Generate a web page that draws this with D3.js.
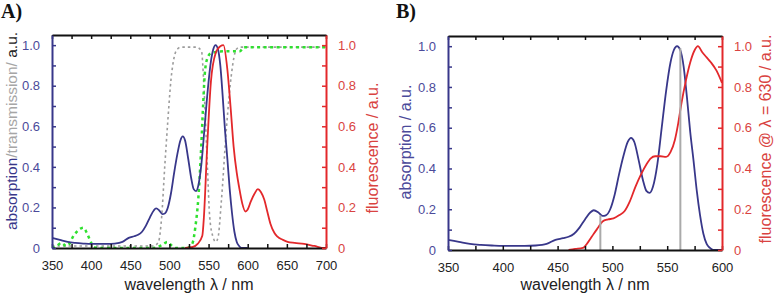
<html>
<head>
<script src="https://cdnjs.cloudflare.com/ajax/libs/d3/7.8.5/d3.min.js"></script>
<style>
  body { margin: 0; background: #fff; }
  text { font-family: "Liberation Sans", Arial, sans-serif; }
  .panel-tag { font-family: "Liberation Serif", "Times New Roman", serif; font-weight: bold; font-size: 20px; }
</style>
</head>
<body>
<script>
// wavelength (nm) / value pairs

// A) absorption (same dye as in B)
var absWl  = [350,360,370,380,390,400,410,420,430,440,448,455,460,465,470,475,480,483,487,491,494,498,502,506,510,514,517,520,524,528,531,534,537,541,545,549,553,556,559,562,565,568,571,574,577,580,583,586,589,592,600];
var absVal = [0.05,0.04,0.03,0.025,0.022,0.02,0.02,0.02,0.022,0.03,0.05,0.058,0.065,0.08,0.11,0.15,0.185,0.195,0.185,0.167,0.17,0.2,0.27,0.37,0.46,0.53,0.55,0.53,0.44,0.34,0.29,0.28,0.31,0.42,0.6,0.78,0.92,0.98,1.0,0.98,0.9,0.75,0.58,0.44,0.29,0.17,0.08,0.03,0.01,0,0];

// A) fluorescence
var fluWl  = [520,530,536,542,544,548,553,559,565,569,574,578,582,586,589,593,597,600,604,609,613,617,621,625,629,634,638,645,651,660,672,685,698,700];
var fluVal = [0,0.005,0.02,0.06,0.15,0.48,0.82,0.96,0.995,1.0,0.88,0.7,0.5,0.37,0.3,0.22,0.18,0.19,0.23,0.27,0.29,0.275,0.24,0.18,0.12,0.075,0.056,0.04,0.03,0.025,0.02,0.01,0.0,0.0];

// A) long pass filter transmission (green dotted)
var lpWl  = [350,356,362,368,372,376,383,390,395,399,403,410,480,488,493,497,502,508,520,526,530,533,537,540,543,545,548,553,570,590,595,610,700];
var lpVal = [0.0,0.01,0.025,0.01,0.02,0.05,0.085,0.1,0.07,0.035,0.005,0.0,0.0,0.01,0.02,0.03,0.015,0.0,0.0,0.005,0.03,0.1,0.25,0.45,0.7,0.85,0.93,0.96,0.97,0.97,0.99,0.99,0.99];

// A) band pass / notch filter transmission (grey dotted)
var bpWl  = [350,480,486,490,494,498,502,506,510,515,535,541,544,548.5,551.5,556,559,562,566.5,573,579,585.5,590,610,700];
var bpVal = [0.01,0.01,0.03,0.15,0.4,0.63,0.83,0.94,0.98,0.99,0.99,0.97,0.8,0.4,0.15,0.05,0.03,0.05,0.24,0.6,0.85,0.98,0.99,0.99,0.99];

// B) fluorescence excitation (emission at 630 nm)
var excWl  = [460,466,473,478,483,487,491,496,501,506,511,516,521,526,531,535,539,544,549,553,557,560,563,567,571,575,578,582,586,590,595,600];
var excVal = [0,0.005,0.01,0.04,0.08,0.11,0.14,0.15,0.155,0.17,0.19,0.24,0.31,0.37,0.42,0.45,0.46,0.46,0.457,0.48,0.54,0.62,0.72,0.83,0.92,0.98,1.0,0.97,0.945,0.92,0.88,0.82];

// B) grey marker lines
var markWl  = [489, 562];
var markTop = [0.17, 0.99];

var yTicks = [0,0.1,0.2,0.3,0.4,0.5,0.6,0.7,0.8,0.9,1.0];
var yLabels = ["0","","0.2","","0.4","","0.6","","0.8","","1.0"];
var xTicksA = d3.range(350, 701, 25);
var xTicksB = d3.range(350, 601, 25);

var blue = "#38378a", blueTxt = "#4b4a9a";
var red = "#e3282b", redTxt = "#d94341";
var green = "#2fe02f", grey = "#9c9c9c";

var width = 775, height = 296;
var svg = d3.select("body").append("svg")
    .attr("width", width)
    .attr("height", height);

function zip(a, b) { return a.map(function(d, i) { return [d, b[i]]; }); }

function drawPanel(p) {
  var x = d3.scaleLinear().domain(p.xDomain).range([p.left, p.right]);
  var y = d3.scaleLinear().domain([0, 1.05]).range([p.bottom, p.top]);
  var g = svg.append("g");

  var line = d3.line()
      .x(function(d) { return x(d[0]); })
      .y(function(d) { return y(d[1]); })
      .curve(d3.curveMonotoneX);

  var clip = "clip" + p.id;
  g.append("clipPath").attr("id", clip).append("rect")
      .attr("x", p.left).attr("y", p.top - 2)
      .attr("width", p.right - p.left).attr("height", p.bottom - p.top + 2);

  var plot = g.append("g").attr("clip-path", "url(#" + clip + ")");
  p.series.forEach(function(s) {
    plot.append("path")
        .datum(s.data)
        .attr("d", line)
        .attr("fill", "none")
        .attr("stroke", s.color)
        .attr("stroke-width", s.width)
        .attr("stroke-dasharray", s.dash || null);
  });

  (p.marks || []).forEach(function(m) {
    plot.append("line")
        .attr("x1", x(m[0])).attr("x2", x(m[0]))
        .attr("y1", y(0)).attr("y2", y(m[1]))
        .attr("stroke", "#aaaaaa")
        .attr("stroke-width", 2);
  });

  function fmtX(d) { return d % 50 === 0 ? d : ""; }
  function fmtY(d, i) { return yLabels[i]; }

  var bottom = g.append("g").attr("transform", "translate(0," + p.bottom + ")")
      .call(d3.axisBottom(x).tickValues(p.xTicks).tickFormat(fmtX).tickSize(-4).tickSizeOuter(0).tickPadding(p.xPad));
  var top = g.append("g").attr("transform", "translate(0," + p.top + ")")
      .call(d3.axisTop(x).tickValues(p.xTicks).tickFormat("").tickSize(-4).tickSizeOuter(0));
  [bottom, top].forEach(function(a) {
    a.select(".domain").attr("stroke", "#111").attr("stroke-width", 2);
    a.selectAll(".tick line").attr("stroke", "#111").attr("stroke-width", 1.5);
    a.selectAll("text").attr("fill", "#222").attr("font-size", 13)
        .attr("font-family", "'Liberation Sans', Arial, sans-serif");
  });

  var left = g.append("g").attr("transform", "translate(" + p.left + ",0)")
      .call(d3.axisLeft(y).tickValues(yTicks).tickFormat(fmtY).tickSize(-4).tickSizeOuter(0).tickPadding(12));
  left.select(".domain").attr("stroke", blue).attr("stroke-width", 2);
  left.selectAll(".tick line").attr("stroke", blue).attr("stroke-width", 1.5);
  left.selectAll("text").attr("fill", blueTxt).attr("font-size", 13)
      .attr("font-family", "'Liberation Sans', Arial, sans-serif");

  var right = g.append("g").attr("transform", "translate(" + p.right + ",0)")
      .call(d3.axisRight(y).tickValues(yTicks).tickFormat(fmtY).tickSize(-4).tickSizeOuter(0).tickPadding(12));
  right.select(".domain").attr("stroke", red).attr("stroke-width", 2);
  right.selectAll(".tick line").attr("stroke", red).attr("stroke-width", 1.5);
  right.selectAll("text").attr("fill", redTxt).attr("font-size", 13)
      .attr("font-family", "'Liberation Sans', Arial, sans-serif");

  g.append("text")
      .attr("x", (p.left + p.right) / 2).attr("y", 290)
      .attr("text-anchor", "middle").attr("font-size", 16).attr("fill", "#222")
      .text("wavelength \u03bb / nm");

  var lt = g.append("text")
      .attr("transform", "translate(" + p.leftTitle[0] + "," + p.leftTitle[1] + ") rotate(-90)")
      .attr("text-anchor", "middle").attr("dy", "0.35em").attr("font-size", p.leftSize);
  p.leftParts.forEach(function(t) {
    lt.append("tspan").attr("fill", t[1]).text(t[0]);
  });

  g.append("text")
      .attr("transform", "translate(" + p.rightTitle[0] + "," + p.rightTitle[1] + ") rotate(-90)")
      .attr("text-anchor", "middle").attr("dy", "0.35em").attr("font-size", 16)
      .attr("fill", redTxt)
      .text(p.rightText);

  svg.append("text").attr("class", "panel-tag")
      .attr("x", p.tag[0]).attr("y", p.tag[1]).attr("fill", "#111")
      .text(p.tagText);
}

drawPanel({
  id: "A", tagText: "A)", tag: [1, 18],
  left: 52, right: 326, top: 35, bottom: 248,
  xDomain: [350, 700], xTicks: xTicksA, xPad: 13,
  series: [
    { data: zip(bpWl, bpVal), color: grey, width: 1.6, dash: "2.5,3" },
    { data: zip(lpWl, lpVal), color: green, width: 2.5, dash: "3,3.5" },
    { data: zip(absWl, absVal), color: blue, width: 1.8 },
    { data: zip(fluWl, fluVal), color: red, width: 1.8 }
  ],
  leftTitle: [12, 131], leftSize: 15.5,
  leftParts: [["absorption", blue], ["/transmission/", "#a6a6a6"], [" a.u.", "#222"]],
  rightTitle: [372, 148], rightText: "fluorescence / a.u."
});

drawPanel({
  id: "B", tagText: "B)", tag: [396, 18],
  left: 448, right: 722, top: 36, bottom: 250,
  xDomain: [350, 600], xTicks: xTicksB, xPad: 12.5,
  series: [
    { data: zip(absWl, absVal), color: blue, width: 1.8 },
    { data: zip(excWl, excVal), color: red, width: 1.8 }
  ],
  marks: zip(markWl, markTop),
  leftTitle: [405, 142], leftSize: 16,
  leftParts: [["absorption / a.u.", blueTxt]],
  rightTitle: [765, 139], rightText: "fluorescence @ \u03bb = 630 / a.u."
});
</script>
</body>
</html>
